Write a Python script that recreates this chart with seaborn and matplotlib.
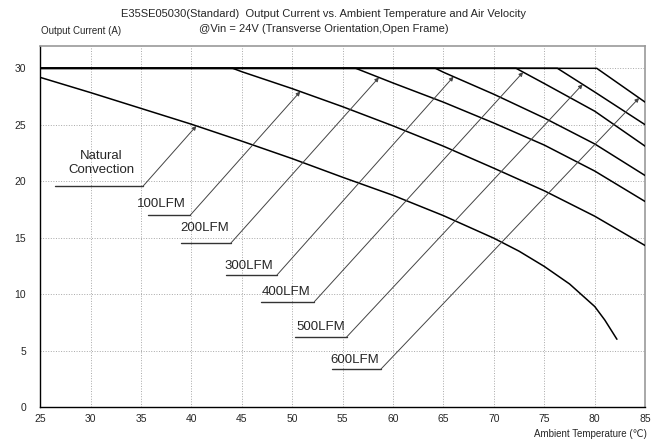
import numpy as np
import pandas as pd
import matplotlib
matplotlib.use("Agg")
import matplotlib.pyplot as plt
from matplotlib.ticker import MultipleLocator
import seaborn as sns

# derating curves
nc_temp = [25, 30, 35, 40, 45, 50, 55, 60, 65, 70, 72.5, 75, 77.5, 80, 81, 82.2]
nc_curr = [29.2, 27.85, 26.45, 25.05, 23.55, 22.0, 20.35, 18.75, 16.95, 14.95, 13.8, 12.45, 10.9, 8.9, 7.7, 6.0]

lfm100_temp = [25, 44.1, 45, 50, 55, 60, 65, 70, 75, 80, 85]
lfm100_curr = [30, 30, 29.7, 28.2, 26.6, 24.9, 23.1, 21.15, 19.15, 16.9, 14.3]

lfm200_temp = [25, 56.3, 60, 65, 70, 75, 80, 85]
lfm200_curr = [30, 30, 28.7, 27.0, 25.15, 23.2, 20.9, 18.2]

lfm300_temp = [25, 64.2, 65, 70, 75, 80, 85]
lfm300_curr = [30, 30, 29.65, 27.7, 25.6, 23.3, 20.5]

lfm400_temp = [25, 72.2, 75, 80, 85]
lfm400_curr = [30, 30, 28.65, 26.2, 23.1]

lfm500_temp = [25, 76.3, 80, 85]
lfm500_curr = [30, 30, 27.9, 25.0]

lfm600_temp = [25, 80.2, 85]
lfm600_curr = [30, 30, 27.0]

curve_names = ["Natural\nConvection", "100LFM", "200LFM", "300LFM", "400LFM", "500LFM", "600LFM"]
curve_temps = [nc_temp, lfm100_temp, lfm200_temp, lfm300_temp, lfm400_temp, lfm500_temp, lfm600_temp]
curve_currs = [nc_curr, lfm100_curr, lfm200_curr, lfm300_curr, lfm400_curr, lfm500_curr, lfm600_curr]

# label boxes: text centre, underline (x0, x1, y), arrow tip temperature
label_x = [31.1, 37.0, 41.3, 45.7, 49.4, 52.8, 56.2]
label_y = [21.6, 18.0, 15.9, 12.5, 10.2, 7.06, 4.2]
line_x0 = [26.5, 35.7, 39.0, 43.4, 46.9, 50.3, 53.9]
line_x1 = [35.2, 39.9, 43.9, 48.5, 52.2, 55.4, 58.8]
line_y = [19.55, 17.0, 14.5, 11.7, 9.33, 6.2, 3.36]
arrow_t = [40.5, 50.8, 58.6, 66.0, 72.9, 78.8, 84.4]

x_ticks = list(range(25, 90, 5))
y_ticks = list(range(0, 35, 5))

sns.set_style("white")
plt.rcParams['font.family'] = ['Liberation Sans', 'DejaVu Sans']

fig = plt.figure(figsize=(6.57, 4.44), dpi=100)
ax = fig.add_axes([0.061, 0.0833, 0.921, 0.8137])

rows = []
for name, t, c in zip(curve_names, curve_temps, curve_currs):
    for a, b in zip(t, c):
        rows.append({"curve": name, "temp": a, "curr": b})
df = pd.DataFrame(rows)

for name in curve_names:
    sub = df[df.curve == name]
    sns.lineplot(data=sub, x="temp", y="curr", ax=ax, color="black", lw=1.1, sort=False, zorder=3)

for i in range(len(curve_names)):
    tip_y = np.interp(arrow_t[i], curve_temps[i], curve_currs[i])
    ax.plot([line_x0[i], line_x1[i]], [line_y[i], line_y[i]], color="#333333", lw=1.0, zorder=4)
    ax.annotate("", xy=(arrow_t[i], tip_y), xytext=(line_x1[i], line_y[i]),
                arrowprops=dict(arrowstyle="-|>", color="#444444", lw=0.7,
                                mutation_scale=6, shrinkA=0, shrinkB=0), zorder=4)
    ax.text(label_x[i], label_y[i], curve_names[i], ha="center", va="center",
            fontsize=9.5, linespacing=1.15, zorder=5)

ax.set_xlim(25, 85)
ax.set_ylim(0, 32)
ax.set_xticks(x_ticks)
ax.set_yticks(y_ticks)
ax.xaxis.set_minor_locator(MultipleLocator(1))
ax.yaxis.set_minor_locator(MultipleLocator(1))
ax.tick_params(which="both", direction="in", length=3, width=0.8, color="black", labelsize=7.5)
ax.tick_params(axis="x", which="major", pad=5)
ax.tick_params(axis="y", which="major", pad=10)
ax.grid(True, which="major", color="#a8a8a8", lw=0.7, ls=":")
ax.set_xlabel("")
ax.set_ylabel("")

for s in ["left", "bottom"]:
    ax.spines[s].set_color("black")
    ax.spines[s].set_linewidth(1.0)
for s in ["top", "right"]:
    ax.spines[s].set_color("#999999")
    ax.spines[s].set_linewidth(1.2)

fig.text(0.493, 0.968, "E35SE05030(Standard)  Output Current vs. Ambient Temperature and Air Velocity",
         ha="center", va="center", fontsize=8)
fig.text(0.493, 0.935, "@Vin = 24V (Transverse Orientation,Open Frame)",
         ha="center", va="center", fontsize=8)
fig.text(0.063, 0.93, "Output Current (A)", ha="left", va="center", fontsize=7)
fig.text(0.985, 0.022, "Ambient Temperature (\u2103)", ha="right", va="center", fontsize=7)

fig.savefig("out.png", dpi=100)
